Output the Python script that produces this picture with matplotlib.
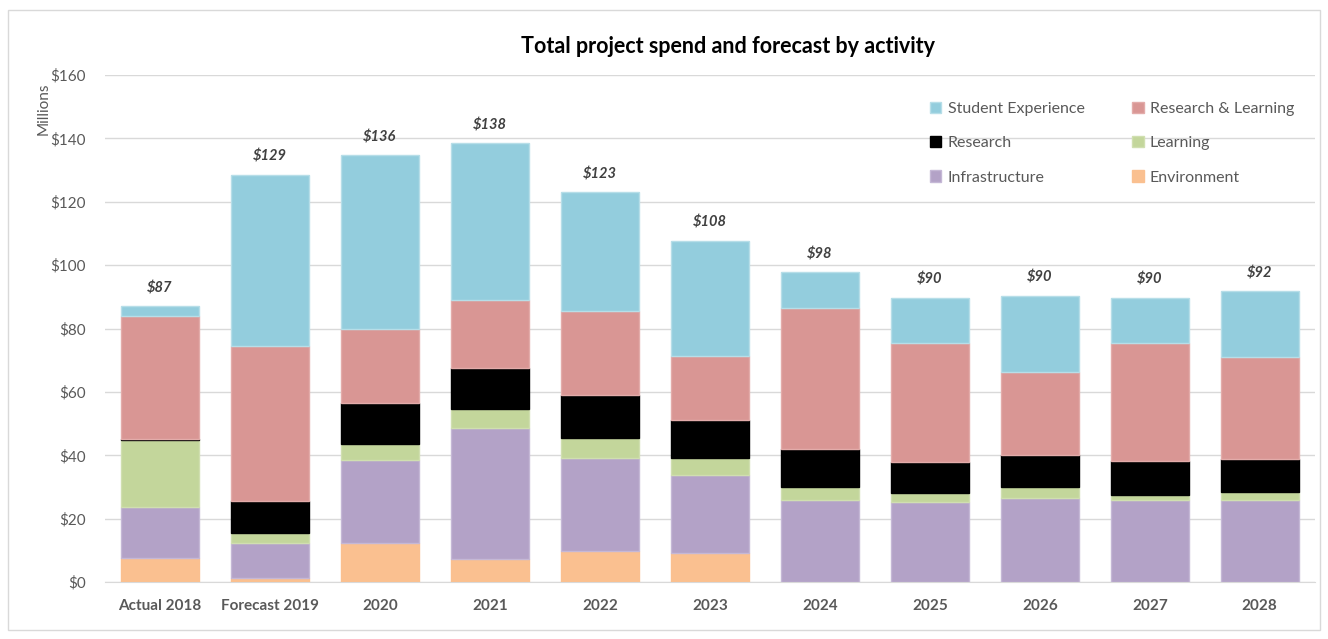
import matplotlib
matplotlib.use("Agg")
import matplotlib.pyplot as plt
from matplotlib.patches import Rectangle
import numpy as np

# Data (millions)
categories = ["Actual 2018", "Forecast 2019", "2020", "2021", "2022", "2023",
              "2024", "2025", "2026", "2027", "2028"]
environment = [7.7, 1.2, 12.2, 7.3, 9.8, 9.2, 0.0, 0.0, 0.0, 0.0, 0.0]
infrastructure = [15.9, 11.0, 26.3, 41.4, 29.4, 24.6, 25.9, 25.1, 26.6, 25.9, 25.9]
learning = [21.2, 3.4, 4.9, 5.9, 6.1, 5.2, 4.0, 3.1, 3.3, 1.7, 2.4]
research = [0.4, 10.1, 13.0, 13.0, 13.7, 12.1, 12.2, 9.8, 10.1, 10.6, 10.6]
research_learning = [38.6, 48.9, 23.3, 21.4, 26.6, 20.2, 44.3, 37.5, 26.4, 37.1, 32.1]
student_experience = [3.2, 53.9, 55.0, 49.4, 37.4, 36.4, 11.3, 14.2, 23.9, 14.4, 20.8]
total_labels = [87, 129, 136, 138, 123, 108, 98, 90, 90, 90, 92]

series = [
    ("Environment", environment, "#FAC090", "#FAC090"),
    ("Infrastructure", infrastructure, "#B3A2C7", "#C5B8D6"),
    ("Learning", learning, "#C3D69B", "#D0DFB0"),
    ("Research", research, "#000000", "#000000"),
    ("Research & Learning", research_learning, "#D99694", "#E3ACAA"),
    ("Student Experience", student_experience, "#93CDDD", "#B7DEE8"),
]

text_grey = "#595959"
plt.rcParams["font.family"] = ["Lato", "DejaVu Sans"]

fig = plt.figure(figsize=(13.28, 6.39), dpi=100)
ax = fig.add_axes([0.0791, 0.0892, 0.9109, 0.7934])

x = np.arange(len(categories))
bottom = np.zeros(len(categories))
handles = {}
for name, vals, col, edge in series:
    vals = np.array(vals)
    b = ax.bar(x, vals, 0.71, bottom=bottom, color=col, edgecolor=edge,
               linewidth=1.0, label=name, zorder=3)
    handles[name] = b
    bottom += vals

for xi, top, lab in zip(x, bottom, total_labels):
    ax.annotate(f"${lab}", (xi, top), xytext=(0, 8), textcoords="offset points",
                ha="center", va="bottom", fontsize=10.5, fontweight="bold",
                fontstyle="italic", color="#404040")

ax.set_xlim(-0.5, len(categories) - 0.5)
ax.set_ylim(0, 160)
ax.set_yticks(np.arange(0, 161, 20))
ax.set_yticklabels([f"${v}" for v in range(0, 161, 20)])
ax.set_xticks(x)
ax.set_xticklabels(categories, fontweight="bold")
ax.tick_params(axis="both", length=0, labelsize=11, colors=text_grey)
ax.tick_params(axis="y", pad=14)
ax.tick_params(axis="x", pad=12)
ax.grid(axis="y", color="#D9D9D9", linewidth=1.0, zorder=0)
for s in ["top", "right", "left"]:
    ax.spines[s].set_visible(False)
ax.spines["bottom"].set_color("#D9D9D9")
ax.set_axisbelow(True)

fig.text(0.033, 0.83, "Millions", rotation=90, ha="center", va="center",
         fontsize=11, color=text_grey)

fig.text(0.548, 0.928, "Total project spend and forecast by activity",
         ha="center", va="center", fontsize=15.5, fontweight="bold", color="black")

order = ["Student Experience", "Research", "Infrastructure",
         "Research & Learning", "Learning", "Environment"]
leg = ax.legend([handles[n] for n in order], order, ncol=2, loc="upper right",
                bbox_to_anchor=(0.995, 0.975), frameon=False, fontsize=11.5,
                handlelength=0.7, handleheight=0.7, handletextpad=0.4,
                columnspacing=3.0, labelspacing=1.25, labelcolor=text_grey)

fig.patches.append(Rectangle((0.006, 0.014), 0.988, 0.97, transform=fig.transFigure,
                             fill=False, edgecolor="#D9D9D9", linewidth=1.0))

fig.savefig("out.png", dpi=100, facecolor="white")
